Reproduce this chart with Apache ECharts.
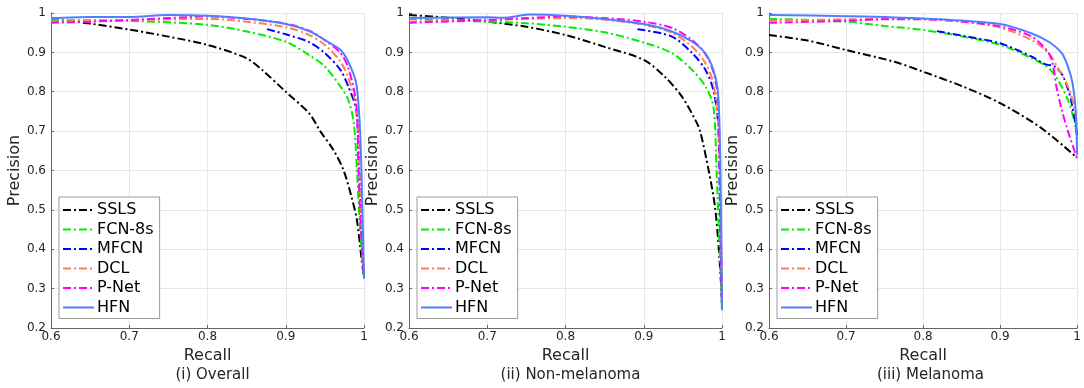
<!DOCTYPE html>
<html><head><meta charset="utf-8">
<script src="https://cdn.jsdelivr.net/npm/echarts@6/dist/echarts.min.js"></script>
<style>html,body{margin:0;padding:0;background:#fff}#c{width:1084px;height:388px}</style>
</head><body><div id="c"></div>
<script>
// ---- Data (recall, precision) ----
const methods = ['SSLS', 'FCN-8s', 'MFCN', 'DCL', 'P-Net', 'HFN'];
const panelTitles = ['(i) Overall', '(ii) Non-melanoma', '(iii) Melanoma'];
const xTicks = [0.6, 0.7, 0.8, 0.9, 1];
const yTicks = [0.2, 0.3, 0.4, 0.5, 0.6, 0.7, 0.8, 0.9, 1];

// (i) Overall
const overallSSLS  = [[0.6,0.985],[0.65,0.973],[0.7,0.958],[0.75,0.94],[0.8,0.919],[0.85,0.885],[0.87,0.855],[0.9,0.80],[0.93,0.745],[0.944,0.70],[0.961,0.652],[0.974,0.60],[0.984,0.533],[0.991,0.474],[0.997,0.373],[1,0.33]];
const overallFCN   = [[0.6,0.982],[0.7,0.98],[0.8,0.97],[0.85,0.953],[0.9,0.927],[0.93,0.893],[0.95,0.864],[0.97,0.813],[0.98,0.779],[0.987,0.72],[0.991,0.6],[0.995,0.45],[1,0.33]];
const overallMFCN  = [[0.876,0.959],[0.9,0.946],[0.93,0.926],[0.95,0.898],[0.97,0.855],[0.98,0.813],[0.99,0.754],[0.994,0.6],[0.997,0.45],[1,0.33]];
const overallDCL   = [[0.6,0.978],[0.7,0.982],[0.8,0.985],[0.85,0.978],[0.9,0.964],[0.93,0.944],[0.95,0.919],[0.97,0.876],[0.98,0.835],[0.99,0.76],[0.994,0.6],[0.997,0.45],[1,0.33]];
const overallPNet  = [[0.6,0.975],[0.65,0.978],[0.7,0.982],[0.75,0.987],[0.8,0.991],[0.85,0.985],[0.9,0.973],[0.93,0.955],[0.95,0.931],[0.97,0.898],[0.98,0.86],[0.99,0.77],[0.993,0.6],[0.996,0.45],[1,0.33]];
const overallHFN   = [[0.6,0.987],[0.65,0.99],[0.7,0.99],[0.75,0.995],[0.8,0.993],[0.85,0.986],[0.9,0.972],[0.93,0.954],[0.95,0.931],[0.97,0.906],[0.98,0.876],[0.99,0.822],[0.995,0.70],[0.998,0.5],[1,0.325]];

// (ii) Non-melanoma
const nonmelSSLS   = [[0.6,0.995],[0.65,0.988],[0.7,0.978],[0.75,0.965],[0.8,0.944],[0.85,0.914],[0.9,0.881],[0.927,0.838],[0.949,0.787],[0.966,0.728],[0.972,0.70],[0.983,0.60],[0.991,0.508],[0.996,0.398],[1,0.27]];
const nonmelFCN    = [[0.6,0.985],[0.7,0.978],[0.75,0.974],[0.8,0.965],[0.85,0.951],[0.9,0.925],[0.936,0.898],[0.962,0.855],[0.979,0.813],[0.989,0.762],[0.993,0.6],[0.996,0.45],[1,0.25]];
const nonmelMFCN   = [[0.892,0.959],[0.9,0.957],[0.936,0.94],[0.962,0.898],[0.979,0.855],[0.989,0.804],[0.995,0.72],[0.997,0.55],[1,0.25]];
const nonmelDCL    = [[0.6,0.978],[0.7,0.982],[0.8,0.987],[0.839,0.985],[0.9,0.97],[0.936,0.95],[0.962,0.914],[0.979,0.872],[0.989,0.82],[0.995,0.72],[0.998,0.5],[1,0.25]];
const nonmelPNet   = [[0.6,0.975],[0.7,0.982],[0.75,0.987],[0.8,0.991],[0.85,0.987],[0.9,0.978],[0.936,0.962],[0.962,0.931],[0.979,0.895],[0.989,0.85],[0.995,0.78],[0.998,0.5],[1,0.25]];
const nonmelHFN    = [[0.6,0.987],[0.7,0.989],[0.72,0.988],[0.754,0.996],[0.8,0.993],[0.85,0.985],[0.9,0.972],[0.936,0.953],[0.962,0.927],[0.979,0.897],[0.989,0.855],[0.995,0.796],[0.998,0.6],[1,0.245]];

// (iii) Melanoma
const melSSLS      = [[0.6,0.944],[0.65,0.93],[0.7,0.906],[0.763,0.876],[0.8,0.851],[0.852,0.813],[0.9,0.771],[0.954,0.707],[1,0.632]];
const melFCN       = [[0.6,0.985],[0.7,0.978],[0.75,0.967],[0.8,0.957],[0.852,0.94],[0.9,0.919],[0.941,0.885],[0.963,0.86],[0.975,0.83],[0.988,0.779],[0.997,0.72],[1,0.68]];
const melMFCN      = [[0.818,0.954],[0.852,0.942],[0.9,0.923],[0.941,0.889],[0.958,0.87],[0.971,0.864],[0.982,0.838],[0.992,0.779],[1,0.69]];
const melDCL       = [[0.6,0.98],[0.7,0.984],[0.8,0.985],[0.852,0.978],[0.9,0.963],[0.941,0.931],[0.963,0.898],[0.975,0.86],[0.988,0.813],[0.997,0.754],[1,0.70]];
const melPNet      = [[0.6,0.975],[0.7,0.98],[0.75,0.984],[0.8,0.984],[0.852,0.978],[0.9,0.966],[0.941,0.94],[0.963,0.898],[0.969,0.864],[0.973,0.813],[0.98,0.754],[0.988,0.70],[1,0.63]];
const melHFN       = [[0.6,0.995],[0.7,0.992],[0.8,0.986],[0.9,0.972],[0.941,0.948],[0.963,0.927],[0.98,0.898],[0.988,0.864],[0.994,0.822],[0.998,0.754],[1,0.64]];

const panelData = [
  [overallSSLS, overallFCN, overallMFCN, overallDCL, overallPNet, overallHFN],
  [nonmelSSLS, nonmelFCN, nonmelMFCN, nonmelDCL, nonmelPNet, nonmelHFN],
  [melSSLS, melFCN, melMFCN, melDCL, melPNet, melHFN]
];

// ---- Styles ----
const colors = ['#000000', '#00ee00', '#0000ff', '#ff7f50', '#ff00ff', '#4f7fff'];
const dashDot = [8, 3, 2, 3];
const lineTypes = [dashDot, dashDot, dashDot, dashDot, dashDot, 'solid'];
const gridLefts = [51, 409, 769];
const gridW = 313, gridTop = 13, gridH = 315;
const txt = '#262626';
const font = 'DejaVu Sans';

const grids = [], xAxes = [], yAxes = [], series = [], legends = [], titles = [];
panelData.forEach((pd, i) => {
  grids.push({ left: gridLefts[i], top: gridTop, width: gridW, height: gridH, containLabel: false });
  xAxes.push({
    type: 'value', gridIndex: i, min: 0.6, max: 1, interval: 0.1,
    name: 'Recall', nameLocation: 'middle', nameGap: 20,
    nameTextStyle: { fontSize: 16, color: txt, fontFamily: font },
    axisLine: { lineStyle: { color: '#666' } },
    axisTick: { inside: true, length: 3, lineStyle: { color: '#666' } },
    axisLabel: { fontSize: 12, color: txt, fontFamily: font, margin: 3 },
    splitLine: { lineStyle: { color: '#e6e6e6' } }
  });
  yAxes.push({
    type: 'value', gridIndex: i, min: 0.2, max: 1, interval: 0.1,
    name: 'Precision', nameLocation: 'middle', nameGap: 19,
    nameTextStyle: { fontSize: 16, color: txt, fontFamily: font },
    axisLine: { show: true, lineStyle: { color: '#666' } },
    axisTick: { show: true, inside: true, length: 3, lineStyle: { color: '#666' } },
    axisLabel: { fontSize: 12, color: txt, fontFamily: font, margin: 5 },
    splitLine: { lineStyle: { color: '#e6e6e6' } }
  });
  pd.forEach((d, k) => {
    series.push({
      type: 'line', name: methods[k], xAxisIndex: i, yAxisIndex: i, data: d,
      symbol: 'none', smooth: 0.3, animation: false,
      lineStyle: { color: colors[k], width: 2, type: lineTypes[k] },
      itemStyle: { color: colors[k] }
    });
  });
  legends.push({
    data: methods, orient: 'vertical', left: gridLefts[i] + 8, top: 197,
    itemWidth: 31, itemHeight: 14, itemGap: 3.5, padding: [5, 6, 3, 3],
    borderColor: '#999', borderWidth: 1, backgroundColor: '#fff',
    itemStyle: { opacity: 0 },
    textStyle: { fontSize: 16, color: '#000', fontFamily: font, padding: [0, 0, 0, -2] },
    selectedMode: false
  });
  titles.push({
    text: panelTitles[i], left: gridLefts[i] + gridW / 2, top: 363, textAlign: 'center',
    textStyle: { fontSize: 15, fontWeight: 'normal', color: txt, fontFamily: font }
  });
});

const chart = echarts.init(document.getElementById('c'), null, { renderer: 'canvas' });
chart.setOption({
  animation: false,
  title: titles, grid: grids, xAxis: xAxes, yAxis: yAxes, legend: legends, series: series
});
</script></body></html>
